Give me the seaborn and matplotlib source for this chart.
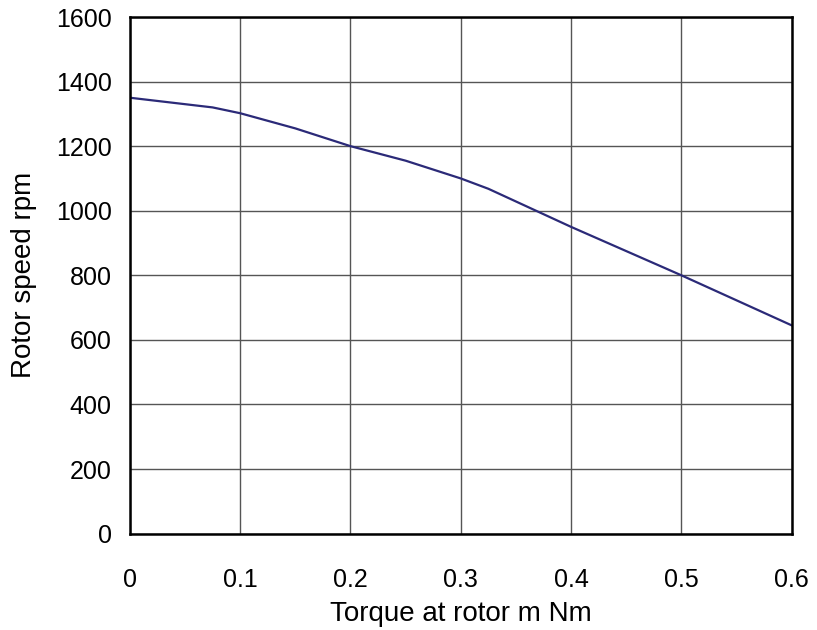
import matplotlib
matplotlib.use("Agg")
import matplotlib.pyplot as plt
import seaborn as sns
import pandas as pd

# torque (Nm) vs rotor speed (rpm)
TORQUE = [0.0, 0.05, 0.075, 0.1, 0.15, 0.2, 0.25, 0.3, 0.325, 0.4, 0.5, 0.6]
SPEED = [1350, 1330, 1320, 1302, 1255, 1200, 1155, 1100, 1068, 950, 800, 645]

X_TICKS = [0, 0.1, 0.2, 0.3, 0.4, 0.5, 0.6]
X_TICK_LABELS = ["0", "0.1", "0.2", "0.3", "0.4", "0.5", "0.6"]
Y_TICKS = list(range(0, 1601, 200))

df = pd.DataFrame({"torque": TORQUE, "speed": SPEED})

sns.set_style("white")
plt.rcParams["font.family"] = ["Liberation Sans", "DejaVu Sans"]

fig, ax = plt.subplots(figsize=(8.17, 6.3), dpi=100)
fig.subplots_adjust(left=0.159, right=0.969, top=0.973, bottom=0.153)

sns.lineplot(data=df, x="torque", y="speed", ax=ax, color="#2b2a78", linewidth=1.6)

ax.set_xlim(0, 0.6)
ax.set_ylim(0, 1600)
ax.set_xticks(X_TICKS)
ax.set_xticklabels(X_TICK_LABELS)
ax.set_yticks(Y_TICKS)
ax.grid(True, color="#555555", linewidth=1.0)
ax.set_axisbelow(True)

for side in ["left", "right", "top", "bottom"]:
    ax.spines[side].set_visible(True)
    ax.spines[side].set_color("black")
    ax.spines[side].set_linewidth(1.8)

ax.tick_params(axis="both", direction="out", length=7, width=1,
               labelsize=18, colors="black", pad=6)
ax.tick_params(axis="x", pad=18)
ax.set_xlabel("Torque at rotor m Nm", fontsize=20, color="black", labelpad=6)
ax.set_ylabel("Rotor speed rpm", fontsize=20, color="black", labelpad=14)

plt.savefig("out.png", dpi=100)
